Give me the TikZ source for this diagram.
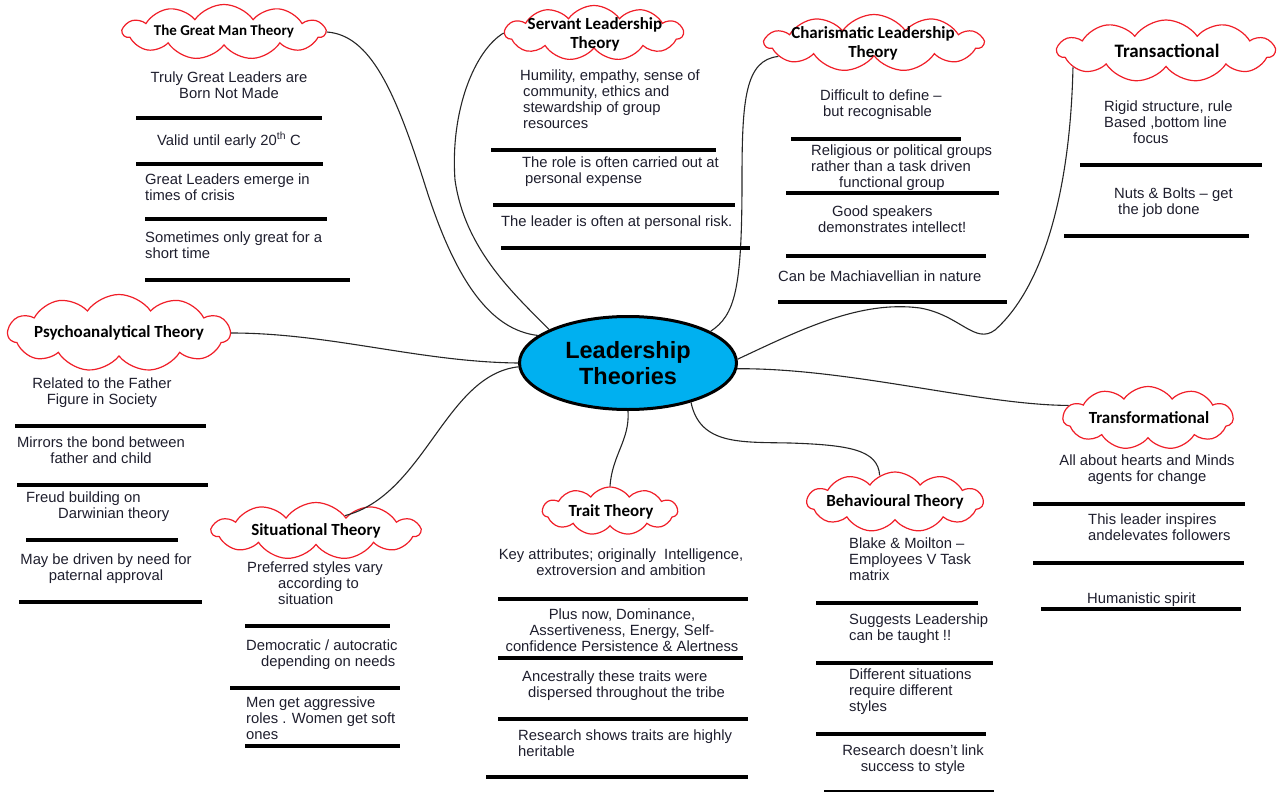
\documentclass[tikz,border=0pt]{standalone}
\usepackage{fontspec}
\setmainfont{Liberation Sans}
\newfontfamily\cloudfont{Carlito}
\usetikzlibrary{shapes.symbols,shapes.geometric}

\definecolor{ctxt}{RGB}{30,30,45}
\definecolor{cctr}{RGB}{0,176,240}
\definecolor{ccloud}{RGB}{240,30,40}

\tikzset{
  theory/.style={cloud, cloud puffs=11, cloud puff arc=110, cloud ignores aspect,
    draw=ccloud, fill=white, line width=1.2pt, inner sep=0pt},
  theorytext/.style={font=\cloudfont\bfseries\fontsize{17}{19}\selectfont,
    align=center, text=black, inner sep=0pt},
  note/.style={font=\fontsize{14.8}{16.2}\selectfont, text=ctxt, inner sep=0pt,
    align=left, anchor=north west, yshift=10.8pt},
  cnote/.style={note, align=center, anchor=north},
  sepline/.style={line width=3.6pt},
  link/.style={line width=1.1pt, black!85},
}

\begin{document}
\begin{tikzpicture}[x=1pt,y=-1pt]
%
\useasboundingbox (0,0) rectangle (1282,792);
%
% theory clouds
\node[theory, minimum width=202pt, minimum height=55pt] (gm) at (224,32) {};
\node[theory, minimum width=178pt, minimum height=55pt] (sv) at (594,33) {};
\node[theory, minimum width=218pt, minimum height=57pt] (ch) at (874,43) {};
\node[theory, minimum width=217pt, minimum height=62pt] (tr) at (1166,51) {};
\node[theory, minimum width=222pt, minimum height=77pt] (ps) at (119,333) {};
\node[theory, minimum width=170pt, minimum height=63pt] (tf) at (1148,418) {};
\node[theory, minimum width=176pt, minimum height=60pt] (bh) at (895,502) {};
\node[theory, minimum width=135pt, minimum height=48pt] (trt) at (610,511) {};
\node[theory, minimum width=208pt, minimum height=57pt] (si) at (316,531) {};
%
\node[theorytext, font=\cloudfont\bfseries\fontsize{15}{17}\selectfont] (gml) at (224,31) {The Great Man Theory};
\node[theorytext] (svl) at (595,34) {Servant Leadership\\Theory};
\node[theorytext] (chl) at (873,43) {Charismatic Leadership\\Theory};
\node[theorytext, font=\cloudfont\bfseries\fontsize{19}{21}\selectfont] (trl) at (1167,51) {Transactional};
\node[theorytext] (psl) at (119,333) {Psychoanalytical Theory};
\node[theorytext] (tfl) at (1149,418) {Transformational};
\node[theorytext] (bhl) at (895,502) {Behavioural Theory};
\node[theorytext] (trtl) at (611,512) {Trait Theory};
\node[theorytext] (sil) at (316,531) {Situational Theory};
%
% centre
\node[ellipse, draw, line width=3pt, fill=cctr, minimum width=217pt, minimum height=93pt,
  font=\bfseries\fontsize{23.5}{26}\selectfont, align=center, inner sep=0pt] (ctr) at (628,363) {Leadership\\Theories};
%
% links
\draw[link] (gm.east) .. controls (370,35) and (395,90) .. (425,185)
  .. controls (455,280) and (490,330) .. (ctr.163);
\draw[link] (sv.west) .. controls (475,50) and (450,110) .. (455,180)
  .. controls (465,250) and (515,295) .. (ctr.157);
\draw[link] (ch.188) .. controls (745,60) and (742,100) .. (742,180)
  .. controls (742,290) and (735,315) .. (ctr.21);
\draw[link] (ctr.2) .. controls (800,330) and (860,300) .. (920,308)
  .. controls (960,315) and (975,345) .. (995,330)
  .. controls (1040,290) and (1070,200) .. (tr.190);
\draw[link] (ps.east) .. controls (330,333) and (420,362) .. (ctr.west);
\draw[link] (si.28) .. controls (425,495) and (445,375) .. (ctr.182);
\draw[link] (ctr.south) .. controls (630,440) and (612,455) .. (trt.north);
\draw[link] (ctr.-32) .. controls (700,445) and (740,442) .. (790,443)
  .. controls (850,445) and (878,450) .. (bh.120);
\draw[link] (ctr.-3) .. controls (850,368) and (980,405) .. (tf.171);
%
% The Great Man Theory
\node[cnote] (gm1) at (229,82) {Truly Great Leaders are\\Born Not Made};
\node[cnote] (gm2) at (229,143) {Valid until early 20\textsuperscript{th} C};
\node[note] (gm3) at (145,184) {Great Leaders emerge in\\times of crisis};
\node[note] (gm4) at (145,242) {Sometimes only great for a\\short time};
\draw[sepline] (136,118) -- (322,118);
\draw[sepline] (136,164) -- (323,164);
\draw[sepline] (145,219) -- (327,219);
\draw[sepline] (145,280) -- (350,280);
%
% Servant Leadership Theory
\node[note] (sv1) at (520,80) {Humility, empathy, sense of\\\hspace*{3pt}community, ethics and\\\hspace*{3pt}stewardship of group\\\hspace*{3pt}resources};
\node[note] (sv2) at (522,167) {The role is often carried out at\\\hspace*{3pt}personal expense};
\node[note] (sv3) at (501,226) {The leader is often at personal risk.};
\draw[sepline] (491,150) -- (716,150);
\draw[sepline] (493,205) -- (735,205);
\draw[sepline] (501,248) -- (750,248);
%
% Charismatic Leadership Theory
\node[note] (ch1) at (820,100) {Difficult to define --\\\hspace*{3pt}but recognisable};
\node[note] (ch2) at (811,155) {Religious or political groups\\rather than a task driven\\\hspace*{28pt}functional group};
\node[note] (ch3) at (818,216) {\hspace*{14pt}Good speakers\\demonstrates intellect!};
\node[note] (ch4) at (778,281) {Can be Machiavellian in nature};
\draw[sepline] (791,139) -- (961,139);
\draw[sepline] (786,193) -- (999,193);
\draw[sepline] (786,256) -- (986,256);
\draw[sepline] (778,302) -- (1007,302);
%
% Transactional
\node[note] (tr1) at (1104,111) {Rigid structure, rule\\Based ,bottom line\\\hspace*{29pt}focus};
\node[note] (tr2) at (1114,198) {Nuts \& Bolts -- get\\\hspace*{4pt}the job done};
\draw[sepline] (1080,165) -- (1262,165);
\draw[sepline] (1064,236) -- (1249,236);
%
% Psychoanalytical Theory
\node[cnote] (ps1) at (102,388) {Related to the Father\\Figure in Society};
\node[cnote] (ps2) at (101,447) {Mirrors the bond between\\father and child};
\node[note] (ps3) at (26,502) {Freud building on\\\hspace*{32pt}Darwinian theory};
\node[cnote] (ps4) at (106,564) {May be driven by need for\\paternal approval};
\draw[sepline] (15,426) -- (206,426);
\draw[sepline] (17,485) -- (208,485);
\draw[sepline] (26,540) -- (178,540);
\draw[sepline] (19,602) -- (202,602);
%
% Situational Theory
\node[note] (si1) at (247,572) {Preferred styles vary\\\hspace*{31pt}according to\\\hspace*{31pt}situation};
\node[note] (si2) at (246,650) {Democratic / autocratic\\\hspace*{15pt}depending on needs};
\node[note] (si3) at (246,707) {Men get aggressive\\roles . Women get soft\\ones};
\draw[sepline] (245,626) -- (390,626);
\draw[sepline] (230,688) -- (400,688);
\draw[sepline] (245,746) -- (400,746);
%
% Trait Theory
\node[cnote] (ta1) at (621,559) {Key attributes; originally\ \ Intelligence,\\extroversion and ambition};
\node[cnote] (ta2) at (622,619) {Plus now, Dominance,\\Assertiveness, Energy, Self-\\confidence Persistence \& Alertness};
\node[note] (ta3) at (522,681) {Ancestrally these traits were\\\hspace*{6pt}dispersed throughout the tribe};
\node[note] (ta4) at (518,740) {Research shows traits are highly\\heritable};
\draw[sepline] (498,599) -- (748,599);
\draw[sepline] (498,658) -- (743,658);
\draw[sepline] (498,719) -- (748,719);
\draw[sepline] (486,777) -- (748,777);
%
% Behavioural Theory
\node[note] (be1) at (849,548) {Blake \& Moilton --\\Employees V Task\\matrix};
\node[note] (be2) at (849,624) {Suggests Leadership\\can be taught !!};
\node[note] (be3) at (849,679) {Different situations\\require different\\styles};
\node[cnote] (be4) at (913,755) {Research doesn’t link\\success to style};
\draw[sepline] (816,603) -- (978,603);
\draw[sepline] (816,663) -- (993,663);
\draw[sepline] (816,734) -- (986,734);
\draw[line width=1.5pt] (824,791) -- (994,791);
%
% Transformational
\node[cnote] (tf1) at (1147,465) {All about hearts and Minds\\agents for change};
\node[note] (tf2) at (1088,524) {This leader inspires\\andelevates followers};
\node[note] (tf3) at (1087,603) {Humanistic spirit};
\draw[sepline] (1033,504) -- (1245,504);
\draw[sepline] (1033,563) -- (1244,563);
\draw[sepline] (1041,609) -- (1241,609);
%
\end{tikzpicture}
\end{document}
